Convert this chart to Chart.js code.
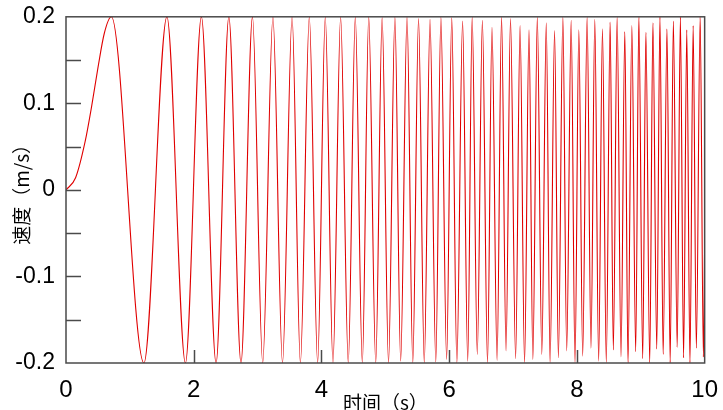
<!DOCTYPE html>
<html lang="zh">
<head>
<meta charset="utf-8">
<script src="https://cdn.jsdelivr.net/npm/chart.js@4.4.0/dist/chart.umd.min.js"></script>
<style>
  html, body { margin: 0; padding: 0; background: #fff; }
  .chart-area { width: 723px; height: 410px; }
</style>
</head>
<body>
<div class="chart-area">
  <canvas id="speed-chart"></canvas>
</div>
<script>
  // 시작 구간 (0 ~ 첫 피크 전)
  const startTime = [0, 0.15, 0.3, 0.4, 0.5, 0.6];
  const startValue = [0, 0.014, 0.056, 0.096, 0.141, 0.181];

  // 피크/골 위치 (s)
  const peakTime = [
    0.71, 1.22, 1.58, 1.87, 2.12, 2.35, 2.55, 2.74, 2.92, 3.08,
    3.24, 3.39, 3.54, 3.67, 3.81, 3.94, 4.06, 4.18, 4.30, 4.42,
    4.53, 4.64, 4.74, 4.85, 4.95, 5.05, 5.15, 5.24, 5.34, 5.43,
    5.52, 5.61, 5.70, 5.79, 5.87, 5.96, 6.04, 6.12, 6.21, 6.29,
    6.36, 6.44, 6.52, 6.60, 6.67, 6.75, 6.82, 6.89, 6.96, 7.04,
    7.11, 7.18, 7.25, 7.31, 7.38, 7.45, 7.52, 7.58, 7.65, 7.71,
    7.78, 7.84, 7.91, 7.97, 8.03, 8.09, 8.16, 8.22, 8.28, 8.34,
    8.40, 8.46, 8.52, 8.57, 8.63, 8.69, 8.75, 8.80, 8.86, 8.92,
    8.97, 9.03, 9.08, 9.14, 9.19, 9.25, 9.30, 9.35, 9.41, 9.46,
    9.51, 9.57, 9.62, 9.67, 9.72, 9.77, 9.82, 9.87, 9.93, 9.98
  ];
  // 피크/골 값 (m/s)
  const peakValue = [
    0.2, -0.2, 0.2, -0.2, 0.2, -0.2, 0.2, -0.2, 0.2, -0.2,
    0.2, -0.2, 0.2, -0.2, 0.2, -0.2, 0.2, -0.2, 0.2, -0.2,
    0.2, -0.2, 0.2, -0.2, 0.199, -0.2, 0.2, -0.198, 0.2, -0.2,
    0.198, -0.2, 0.197, -0.199, 0.2, -0.196, 0.199, -0.2, 0.195, -0.198,
    0.2, -0.19, 0.196, -0.2, 0.188, -0.197, 0.2, -0.186, 0.198, -0.195,
    0.19, -0.2, 0.185, -0.196, 0.2, -0.19, 0.193, -0.2, 0.184, -0.194,
    0.2, -0.186, 0.196, -0.2, 0.185, -0.192, 0.2, -0.183, 0.197, -0.198,
    0.186, -0.2, 0.194, -0.185, 0.2, -0.193, 0.183, -0.2, 0.19, -0.187,
    0.2, -0.195, 0.182, -0.2, 0.193, -0.184, 0.2, -0.19, 0.186, -0.2,
    0.195, -0.182, 0.2, -0.194, 0.185, -0.2, 0.19, -0.183, 0.2, -0.193
  ];
  // 끝점
  const endTime = [10];
  const endValue = [-0.06];

  const xTicks = [0, 2, 4, 6, 8, 10];
  const yTicks = [-0.2, -0.15, -0.1, -0.05, 0, 0.05, 0.1, 0.15, 0.2];

  const allTime = startTime.concat(peakTime, endTime);
  const allValue = startValue.concat(peakValue, endValue);
  const points = allTime.map(function (t, i) { return { x: t, y: allValue[i] }; });

  const frameColor = '#4a4a4a';

  // 안쪽 눈금 + 테두리
  const innerTicks = {
    id: 'innerTicks',
    afterDatasetsDraw(chart) {
      const ctx = chart.ctx;
      const area = chart.chartArea;
      const xs = chart.scales.x;
      const ys = chart.scales.y;
      ctx.save();
      ctx.strokeStyle = frameColor;
      ctx.lineWidth = 1.5;
      yTicks.forEach(function (v) {
        if (Math.abs(v) > 0.19) return;
        const py = Math.round(ys.getPixelForValue(v)) + 0.5;
        ctx.beginPath();
        ctx.moveTo(area.left, py);
        ctx.lineTo(area.left + 15, py);
        ctx.stroke();
      });
      xTicks.forEach(function (v) {
        if (v === 0 || v === 10) return;
        const px = Math.round(xs.getPixelForValue(v)) + 0.5;
        ctx.beginPath();
        ctx.moveTo(px, area.bottom);
        ctx.lineTo(px, area.bottom - 13);
        ctx.stroke();
      });
      ctx.strokeRect(area.left, area.top, area.right - area.left, area.bottom - area.top);
      ctx.restore();
    }
  };

  const yTickFont = { family: '"Liberation Sans", Arial, sans-serif', size: 23 };
  const xTickFont = { family: '"Liberation Sans", Arial, sans-serif', size: 24 };
  const titleFont = { family: '"Noto Sans CJK SC", sans-serif', size: 19 };

  new Chart(document.getElementById('speed-chart'), {
    type: 'line',
    data: {
      datasets: [{
        data: points,
        borderColor: '#e00000',
        borderWidth: 1.1,
        pointRadius: 0,
        cubicInterpolationMode: 'monotone',
        fill: false,
      }]
    },
    options: {
      responsive: true,
      maintainAspectRatio: false,
      animation: false,
      events: [],
      layout: { padding: { top: 16, right: 16, left: 0, bottom: 0 } },
      plugins: {
        legend: { display: false },
        tooltip: { enabled: false },
      },
      scales: {
        x: {
          type: 'linear',
          min: 0,
          max: 10,
          grid: { display: false },
          border: { display: false },
          afterBuildTicks: function (scale) {
            scale.ticks = xTicks.map(function (v) { return { value: v }; });
          },
          afterFit: function (scale) { scale.height = 47; },
          ticks: {
            color: '#000',
            font: xTickFont,
            padding: 5,
            maxRotation: 0,
            autoSkip: false,
            callback: function (v) { return String(v); }
          },
          title: {
            display: true,
            text: '时间（s）',
            color: '#000',
            font: titleFont,
            padding: { top: 0, bottom: -4 }
          }
        },
        y: {
          type: 'linear',
          min: -0.2,
          max: 0.2,
          grid: { display: false },
          border: { display: false },
          afterBuildTicks: function (scale) {
            scale.ticks = yTicks.map(function (v) { return { value: v }; });
          },
          afterFit: function (scale) { scale.width = 66; },
          ticks: {
            color: '#000',
            font: yTickFont,
            padding: 3,
            autoSkip: false,
            callback: function (v) {
              const r = Math.round(v * 100);
              if (r % 10 !== 0) return '';
              return String(r / 100);
            }
          },
          title: {
            display: true,
            text: '速度（m/s）',
            color: '#000',
            font: titleFont,
            padding: { top: 10, bottom: 0 }
          }
        }
      }
    },
    plugins: [innerTicks]
  });
</script>
</body>
</html>
